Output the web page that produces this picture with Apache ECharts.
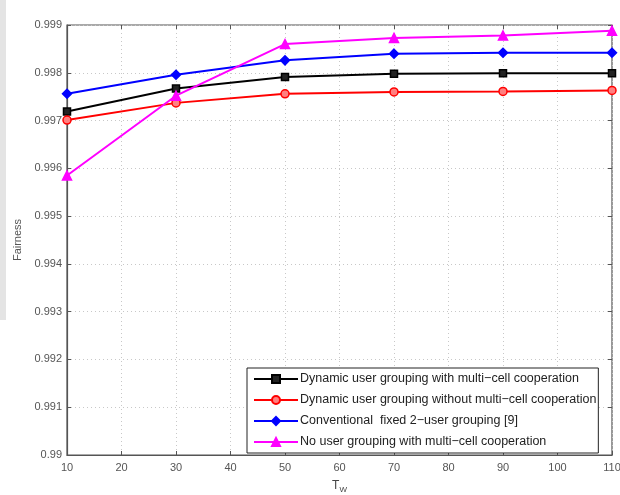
<!DOCTYPE html>
<html>
<head>
<meta charset="utf-8">
<script src="https://cdn.jsdelivr.net/npm/echarts@6/dist/echarts.min.js"></script>
<style>html,body{margin:0;padding:0;background:#fff;}#c{width:620px;height:495px;}</style>
</head>
<body>
<div id="c"></div>
<script>
var xValues = [10, 30, 50, 70, 90, 110];
var xTicks = [10, 20, 30, 40, 50, 60, 70, 80, 90, 100, 110];
var yTicks = [0.99, 0.991, 0.992, 0.993, 0.994, 0.995, 0.996, 0.997, 0.998, 0.999];
var seriesNames = [
  'Dynamic user grouping with multi\u2212cell cooperation',
  'Dynamic user grouping without multi\u2212cell cooperation',
  'Conventional  fixed 2\u2212user grouping [9]',
  'No user grouping with multi\u2212cell cooperation'
];
var blackVals = [0.99719, 0.99767, 0.99791, 0.99798, 0.99799, 0.99799];
var redVals = [0.99701, 0.99737, 0.99756, 0.99760, 0.99761, 0.99763];
var blueVals = [0.99756, 0.99796, 0.99826, 0.99840, 0.99842, 0.99842];
var magentaVals = [0.99585, 0.99752, 0.99860, 0.99873, 0.99878, 0.99888];

function pairs(v){ return xValues.map(function(x,i){ return [x, v[i]]; }); }
function mk(name, vals, color, symbol, size, fill){
  return {
    name: name, type: 'line', data: pairs(vals),
    symbol: symbol, symbolSize: size, showSymbol: true,
    lineStyle: {color: color, width: 2},
    itemStyle: {color: fill, borderColor: color, borderWidth: 1.5},
    emphasis: {disabled: true}, animation: false, z: 3
  };
}
var chart = echarts.init(document.getElementById('c'), null, {renderer: 'canvas'});
var ymin = yTicks[0], ymax = yTicks[yTicks.length-1];
var gridSplit = {show: true, lineStyle: {color: '#c8c8c8', type: [1, 3], width: 1}};
var ff = 'Liberation Sans, Arial';
chart.setOption({
  animation: false,
  backgroundColor: '#fff',
  graphic: [{type: 'rect', shape: {x: 0, y: 0, width: 6, height: 320}, style: {fill: '#e4e4e4'}, silent: true}],
  grid: {left: 67, width: 545, top: 25, height: 430, show: true, borderColor: '#555', borderWidth: 1.2, backgroundColor: '#fff', containLabel: false, outerBoundsMode: 'none'},
  legend: {
    orient: 'vertical', left: 247, top: 368, itemGap: 7, itemWidth: 44, itemHeight: 10,
    padding: [4, 2, 4, 6],
    backgroundColor: '#fff', borderColor: '#222', borderWidth: 1, borderRadius: 0,
    textStyle: {fontFamily: ff, fontSize: 12.5, lineHeight: 14, color: '#222', padding: [0,0,0,-3]},
    data: seriesNames
  },
  xAxis: [{
    type: 'value', min: xTicks[0], max: xTicks[xTicks.length-1], interval: 10,
    name: '{n|T}{s|W}', nameLocation: 'middle', nameGap: 23,
    nameTextStyle: {rich: {n: {fontSize: 12, color: '#444', fontFamily: ff}, s: {fontSize: 8, color: '#444', fontFamily: ff, padding: [8,0,0,0]}}},
    axisLine: {show: true, lineStyle: {color: '#555', width: 1.2}},
    axisTick: {show: true, inside: true, length: 4, lineStyle: {color: '#555'}},
    axisLabel: {fontFamily: ff, fontSize: 11, color: '#555', margin: 7},
    splitLine: gridSplit
  }, {
    type: 'value', position: 'top', min: xTicks[0], max: xTicks[xTicks.length-1], interval: 10,
    axisLine: {show: false}, axisTick: {show: true, inside: true, length: 4, lineStyle: {color: '#555'}},
    axisLabel: {show: false}, splitLine: {show: false}
  }],
  yAxis: [{
    type: 'value', min: ymin, max: ymax, interval: 0.001,
    name: 'Fairness', nameLocation: 'middle', nameGap: 40, nameRotate: 90,
    nameTextStyle: {fontFamily: ff, fontSize: 11, color: '#555'},
    axisLine: {show: true, lineStyle: {color: '#555', width: 1.2}},
    axisTick: {show: true, inside: true, length: 4, lineStyle: {color: '#555'}},
    axisLabel: {fontFamily: ff, fontSize: 11, color: '#555', margin: 5,
      formatter: function(v){ return parseFloat(v.toFixed(3)).toString(); }},
    splitLine: gridSplit
  }, {
    type: 'value', position: 'right', min: ymin, max: ymax, interval: 0.001,
    axisLine: {show: false}, axisTick: {show: true, inside: true, length: 4, lineStyle: {color: '#555'}},
    axisLabel: {show: false}, splitLine: {show: false}
  }],
  series: [
    mk(seriesNames[0], blackVals, '#000', 'rect', 7, '#222'),
    mk(seriesNames[1], redVals, '#ff0000', 'circle', 8, '#ff8080'),
    mk(seriesNames[2], blueVals, '#0000ff', 'diamond', 9, '#0000ff'),
    mk(seriesNames[3], magentaVals, '#ff00ff', 'triangle', 9, '#ff00ff')
  ]
});
</script>
</body>
</html>
